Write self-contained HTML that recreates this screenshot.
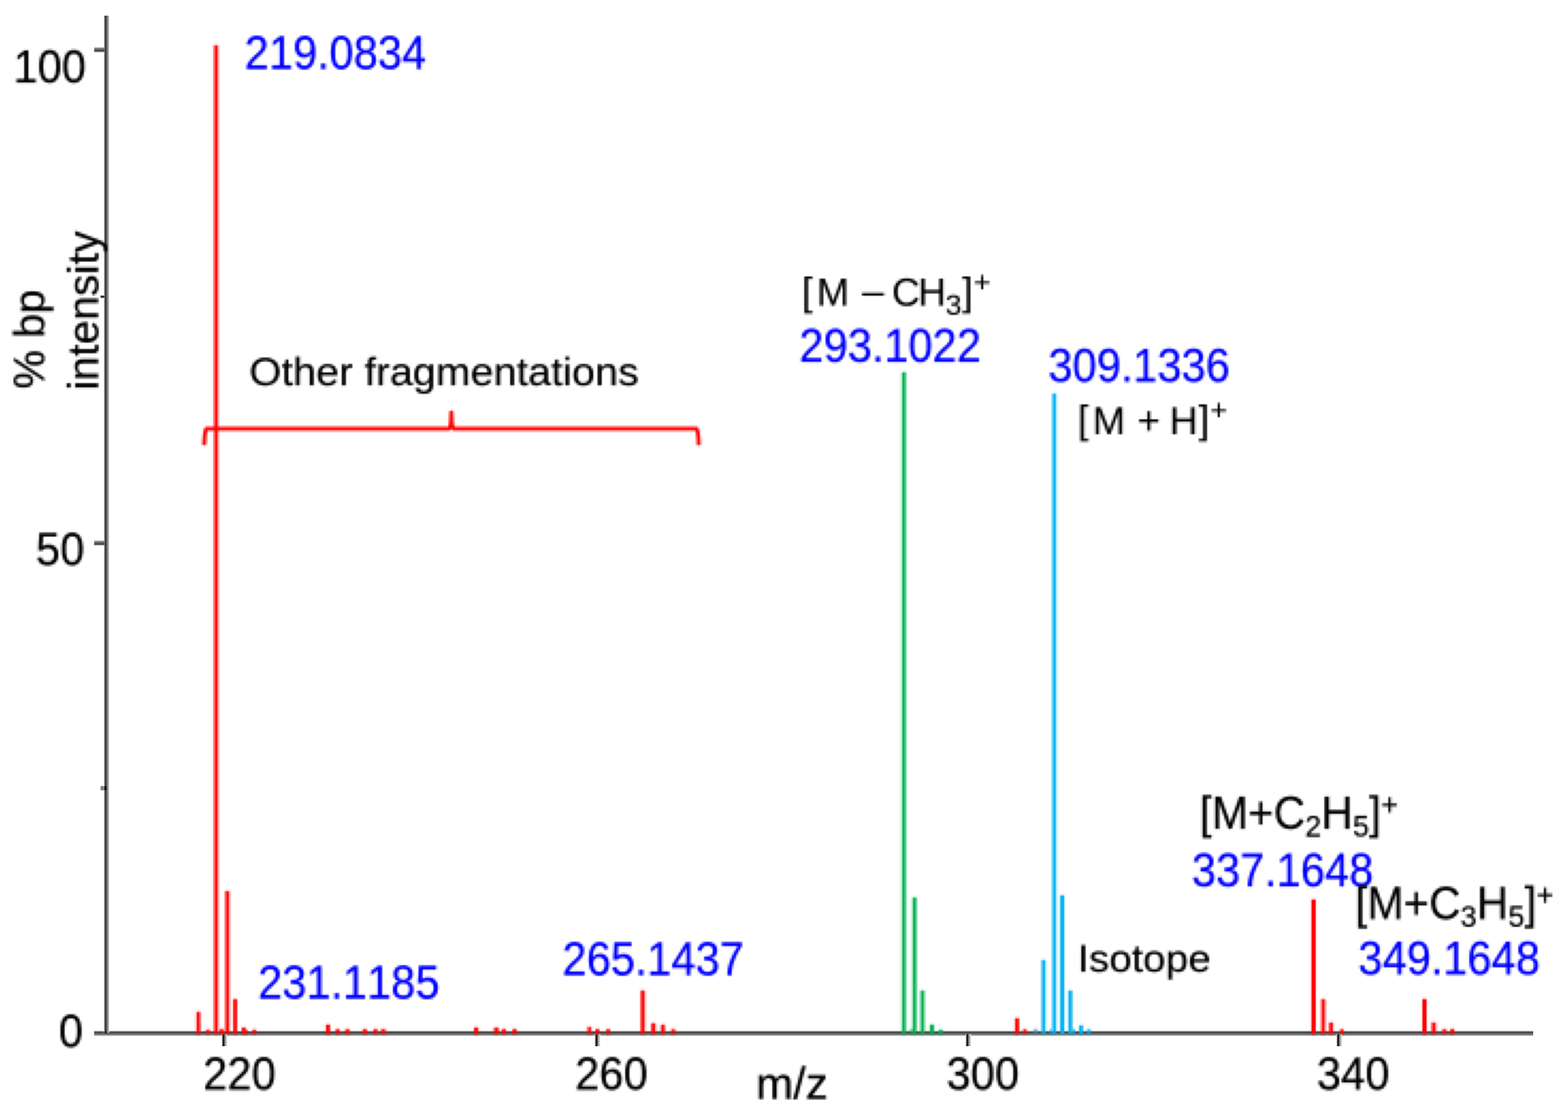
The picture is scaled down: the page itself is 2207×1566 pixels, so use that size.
<!DOCTYPE html>
<html lang="en">
<head>
<meta charset="utf-8">
<title>Mass spectrum</title>
<style>
html,body{margin:0;padding:0;background:#fff;}
body{width:2207px;height:1566px;overflow:hidden;}
svg{display:block;}
svg text{font-family:"Liberation Sans",sans-serif;font-kerning:none;white-space:pre;}
</style>
</head>
<body>
<svg width="2207" height="1566" viewBox="0 0 2207 1566">
<defs>
<filter id="s1" filterUnits="userSpaceOnUse" x="271" y="56" width="93" height="1404" color-interpolation-filters="sRGB"><feConvolveMatrix order="3" kernelMatrix="1 2 1 2 4 2 1 2 1" divisor="16" edgeMode="none" preserveAlpha="false"/></filter>
<filter id="s2" filterUnits="userSpaceOnUse" x="451" y="1436" width="96" height="24" color-interpolation-filters="sRGB"><feConvolveMatrix order="3" kernelMatrix="1 2 1 2 4 2 1 2 1" divisor="16" edgeMode="none" preserveAlpha="false"/></filter>
<filter id="s3" filterUnits="userSpaceOnUse" x="664" y="1439" width="69" height="21" color-interpolation-filters="sRGB"><feConvolveMatrix order="3" kernelMatrix="1 2 1 2 4 2 1 2 1" divisor="16" edgeMode="none" preserveAlpha="false"/></filter>
<filter id="s4" filterUnits="userSpaceOnUse" x="823" y="1388" width="132" height="72" color-interpolation-filters="sRGB"><feConvolveMatrix order="3" kernelMatrix="1 2 1 2 4 2 1 2 1" divisor="16" edgeMode="none" preserveAlpha="false"/></filter>
<filter id="s5" filterUnits="userSpaceOnUse" x="1264" y="518" width="69" height="942" color-interpolation-filters="sRGB"><feConvolveMatrix order="3" kernelMatrix="1 2 1 2 4 2 1 2 1" divisor="16" edgeMode="none" preserveAlpha="false"/></filter>
<filter id="s6" filterUnits="userSpaceOnUse" x="1423" y="548" width="117" height="912" color-interpolation-filters="sRGB"><feConvolveMatrix order="3" kernelMatrix="1 2 1 2 4 2 1 2 1" divisor="16" edgeMode="none" preserveAlpha="false"/></filter>
<filter id="s7" filterUnits="userSpaceOnUse" x="1840" y="1259" width="57" height="201" color-interpolation-filters="sRGB"><feConvolveMatrix order="3" kernelMatrix="1 2 1 2 4 2 1 2 1" divisor="16" edgeMode="none" preserveAlpha="false"/></filter>
<filter id="s8" filterUnits="userSpaceOnUse" x="1999" y="1400" width="51" height="60" color-interpolation-filters="sRGB"><feConvolveMatrix order="3" kernelMatrix="1 2 1 2 4 2 1 2 1" divisor="16" edgeMode="none" preserveAlpha="false"/></filter>
<filter id="p9" filterUnits="userSpaceOnUse" x="274" y="569" width="723" height="69" color-interpolation-filters="sRGB"><feConvolveMatrix in="SourceGraphic" order="3" kernelMatrix="1 1 1 1 1 1 1 1 1" divisor="9" edgeMode="none" preserveAlpha="false" result="a"/><feFlood x="275" y="570" width="1" height="1" flood-color="#000" result="d"/><feComposite in="d" in2="d" operator="over" x="274" y="569" width="3" height="3" result="c"/><feTile in="c" result="g"/><feComposite in="a" in2="g" operator="in" result="s"/><feMorphology in="s" operator="dilate" radius="1" result="m"/><feConvolveMatrix in="m" order="3" kernelMatrix="1 2 1 2 4 2 1 2 1" divisor="16" edgeMode="none" preserveAlpha="false"/></filter>
<filter id="p10" filterUnits="userSpaceOnUse" x="16" y="62" width="111" height="60" color-interpolation-filters="sRGB"><feConvolveMatrix in="SourceGraphic" order="3" kernelMatrix="1 1 1 1 1 1 1 1 1" divisor="9" edgeMode="none" preserveAlpha="false" result="a"/><feFlood x="17" y="63" width="1" height="1" flood-color="#000" result="d"/><feComposite in="d" in2="d" operator="over" x="16" y="62" width="3" height="3" result="c"/><feTile in="c" result="g"/><feComposite in="a" in2="g" operator="in" result="s"/><feMorphology in="s" operator="dilate" radius="1" result="m"/><feConvolveMatrix in="m" order="3" kernelMatrix="1 2 1 2 4 2 1 2 1" divisor="16" edgeMode="none" preserveAlpha="false"/></filter>
<filter id="p11" filterUnits="userSpaceOnUse" x="46" y="743" width="78" height="60" color-interpolation-filters="sRGB"><feConvolveMatrix in="SourceGraphic" order="3" kernelMatrix="1 1 1 1 1 1 1 1 1" divisor="9" edgeMode="none" preserveAlpha="false" result="a"/><feFlood x="47" y="744" width="1" height="1" flood-color="#000" result="d"/><feComposite in="d" in2="d" operator="over" x="46" y="743" width="3" height="3" result="c"/><feTile in="c" result="g"/><feComposite in="a" in2="g" operator="in" result="s"/><feMorphology in="s" operator="dilate" radius="1" result="m"/><feConvolveMatrix in="m" order="3" kernelMatrix="1 2 1 2 4 2 1 2 1" divisor="16" edgeMode="none" preserveAlpha="false"/></filter>
<filter id="p12" filterUnits="userSpaceOnUse" x="79" y="1421" width="42" height="60" color-interpolation-filters="sRGB"><feConvolveMatrix in="SourceGraphic" order="3" kernelMatrix="1 1 1 1 1 1 1 1 1" divisor="9" edgeMode="none" preserveAlpha="false" result="a"/><feFlood x="80" y="1422" width="1" height="1" flood-color="#000" result="d"/><feComposite in="d" in2="d" operator="over" x="79" y="1421" width="3" height="3" result="c"/><feTile in="c" result="g"/><feComposite in="a" in2="g" operator="in" result="s"/><feMorphology in="s" operator="dilate" radius="1" result="m"/><feConvolveMatrix in="m" order="3" kernelMatrix="1 2 1 2 4 2 1 2 1" divisor="16" edgeMode="none" preserveAlpha="false"/></filter>
<filter id="p13" filterUnits="userSpaceOnUse" x="280" y="1481" width="111" height="60" color-interpolation-filters="sRGB"><feConvolveMatrix in="SourceGraphic" order="3" kernelMatrix="1 1 1 1 1 1 1 1 1" divisor="9" edgeMode="none" preserveAlpha="false" result="a"/><feFlood x="281" y="1482" width="1" height="1" flood-color="#000" result="d"/><feComposite in="d" in2="d" operator="over" x="280" y="1481" width="3" height="3" result="c"/><feTile in="c" result="g"/><feComposite in="a" in2="g" operator="in" result="s"/><feMorphology in="s" operator="dilate" radius="1" result="m"/><feConvolveMatrix in="m" order="3" kernelMatrix="1 2 1 2 4 2 1 2 1" divisor="16" edgeMode="none" preserveAlpha="false"/></filter>
<filter id="p14" filterUnits="userSpaceOnUse" x="805" y="1481" width="111" height="60" color-interpolation-filters="sRGB"><feConvolveMatrix in="SourceGraphic" order="3" kernelMatrix="1 1 1 1 1 1 1 1 1" divisor="9" edgeMode="none" preserveAlpha="false" result="a"/><feFlood x="806" y="1482" width="1" height="1" flood-color="#000" result="d"/><feComposite in="d" in2="d" operator="over" x="805" y="1481" width="3" height="3" result="c"/><feTile in="c" result="g"/><feComposite in="a" in2="g" operator="in" result="s"/><feMorphology in="s" operator="dilate" radius="1" result="m"/><feConvolveMatrix in="m" order="3" kernelMatrix="1 2 1 2 4 2 1 2 1" divisor="16" edgeMode="none" preserveAlpha="false"/></filter>
<filter id="p15" filterUnits="userSpaceOnUse" x="1327" y="1481" width="111" height="60" color-interpolation-filters="sRGB"><feConvolveMatrix in="SourceGraphic" order="3" kernelMatrix="1 1 1 1 1 1 1 1 1" divisor="9" edgeMode="none" preserveAlpha="false" result="a"/><feFlood x="1328" y="1482" width="1" height="1" flood-color="#000" result="d"/><feComposite in="d" in2="d" operator="over" x="1327" y="1481" width="3" height="3" result="c"/><feTile in="c" result="g"/><feComposite in="a" in2="g" operator="in" result="s"/><feMorphology in="s" operator="dilate" radius="1" result="m"/><feConvolveMatrix in="m" order="3" kernelMatrix="1 2 1 2 4 2 1 2 1" divisor="16" edgeMode="none" preserveAlpha="false"/></filter>
<filter id="p16" filterUnits="userSpaceOnUse" x="1849" y="1481" width="111" height="60" color-interpolation-filters="sRGB"><feConvolveMatrix in="SourceGraphic" order="3" kernelMatrix="1 1 1 1 1 1 1 1 1" divisor="9" edgeMode="none" preserveAlpha="false" result="a"/><feFlood x="1850" y="1482" width="1" height="1" flood-color="#000" result="d"/><feComposite in="d" in2="d" operator="over" x="1849" y="1481" width="3" height="3" result="c"/><feTile in="c" result="g"/><feComposite in="a" in2="g" operator="in" result="s"/><feMorphology in="s" operator="dilate" radius="1" result="m"/><feConvolveMatrix in="m" order="3" kernelMatrix="1 2 1 2 4 2 1 2 1" divisor="16" edgeMode="none" preserveAlpha="false"/></filter>
<filter id="p17" filterUnits="userSpaceOnUse" x="1063" y="1493" width="108" height="60" color-interpolation-filters="sRGB"><feConvolveMatrix in="SourceGraphic" order="3" kernelMatrix="1 1 1 1 1 1 1 1 1" divisor="9" edgeMode="none" preserveAlpha="false" result="a"/><feFlood x="1064" y="1494" width="1" height="1" flood-color="#000" result="d"/><feComposite in="d" in2="d" operator="over" x="1063" y="1493" width="3" height="3" result="c"/><feTile in="c" result="g"/><feComposite in="a" in2="g" operator="in" result="s"/><feMorphology in="s" operator="dilate" radius="1" result="m"/><feConvolveMatrix in="m" order="3" kernelMatrix="1 2 1 2 4 2 1 2 1" divisor="16" edgeMode="none" preserveAlpha="false"/></filter>
<filter id="p18" filterUnits="userSpaceOnUse" x="10" y="401" width="72" height="150" color-interpolation-filters="sRGB"><feConvolveMatrix in="SourceGraphic" order="3" kernelMatrix="1 1 1 1 1 1 1 1 1" divisor="9" edgeMode="none" preserveAlpha="false" result="a"/><feFlood x="11" y="402" width="1" height="1" flood-color="#000" result="d"/><feComposite in="d" in2="d" operator="over" x="10" y="401" width="3" height="3" result="c"/><feTile in="c" result="g"/><feComposite in="a" in2="g" operator="in" result="s"/><feMorphology in="s" operator="dilate" radius="1" result="m"/><feConvolveMatrix in="m" order="3" kernelMatrix="1 2 1 2 4 2 1 2 1" divisor="16" edgeMode="none" preserveAlpha="false"/></filter>
<filter id="p19" filterUnits="userSpaceOnUse" x="85" y="317" width="75" height="234" color-interpolation-filters="sRGB"><feConvolveMatrix in="SourceGraphic" order="3" kernelMatrix="1 1 1 1 1 1 1 1 1" divisor="9" edgeMode="none" preserveAlpha="false" result="a"/><feFlood x="86" y="318" width="1" height="1" flood-color="#000" result="d"/><feComposite in="d" in2="d" operator="over" x="85" y="317" width="3" height="3" result="c"/><feTile in="c" result="g"/><feComposite in="a" in2="g" operator="in" result="s"/><feMorphology in="s" operator="dilate" radius="1" result="m"/><feConvolveMatrix in="m" order="3" kernelMatrix="1 2 1 2 4 2 1 2 1" divisor="16" edgeMode="none" preserveAlpha="false"/></filter>
<filter id="p20" filterUnits="userSpaceOnUse" x="340" y="44" width="264" height="63" color-interpolation-filters="sRGB"><feConvolveMatrix in="SourceGraphic" order="3" kernelMatrix="1 1 1 1 1 1 1 1 1" divisor="9" edgeMode="none" preserveAlpha="false" result="a"/><feFlood x="341" y="45" width="1" height="1" flood-color="#000" result="d"/><feComposite in="d" in2="d" operator="over" x="340" y="44" width="3" height="3" result="c"/><feTile in="c" result="g"/><feComposite in="a" in2="g" operator="in" result="s"/><feMorphology in="s" operator="dilate" radius="1" result="m"/><feConvolveMatrix in="m" order="3" kernelMatrix="1 2 1 2 4 2 1 2 1" divisor="16" edgeMode="none" preserveAlpha="false"/></filter>
<filter id="p21" filterUnits="userSpaceOnUse" x="358" y="1349" width="264" height="63" color-interpolation-filters="sRGB"><feConvolveMatrix in="SourceGraphic" order="3" kernelMatrix="1 1 1 1 1 1 1 1 1" divisor="9" edgeMode="none" preserveAlpha="false" result="a"/><feFlood x="359" y="1350" width="1" height="1" flood-color="#000" result="d"/><feComposite in="d" in2="d" operator="over" x="358" y="1349" width="3" height="3" result="c"/><feTile in="c" result="g"/><feComposite in="a" in2="g" operator="in" result="s"/><feMorphology in="s" operator="dilate" radius="1" result="m"/><feConvolveMatrix in="m" order="3" kernelMatrix="1 2 1 2 4 2 1 2 1" divisor="16" edgeMode="none" preserveAlpha="false"/></filter>
<filter id="p22" filterUnits="userSpaceOnUse" x="787" y="1319" width="264" height="63" color-interpolation-filters="sRGB"><feConvolveMatrix in="SourceGraphic" order="3" kernelMatrix="1 1 1 1 1 1 1 1 1" divisor="9" edgeMode="none" preserveAlpha="false" result="a"/><feFlood x="788" y="1320" width="1" height="1" flood-color="#000" result="d"/><feComposite in="d" in2="d" operator="over" x="787" y="1319" width="3" height="3" result="c"/><feTile in="c" result="g"/><feComposite in="a" in2="g" operator="in" result="s"/><feMorphology in="s" operator="dilate" radius="1" result="m"/><feConvolveMatrix in="m" order="3" kernelMatrix="1 2 1 2 4 2 1 2 1" divisor="16" edgeMode="none" preserveAlpha="false"/></filter>
<filter id="p23" filterUnits="userSpaceOnUse" x="1120" y="455" width="264" height="60" color-interpolation-filters="sRGB"><feConvolveMatrix in="SourceGraphic" order="3" kernelMatrix="1 1 1 1 1 1 1 1 1" divisor="9" edgeMode="none" preserveAlpha="false" result="a"/><feFlood x="1121" y="456" width="1" height="1" flood-color="#000" result="d"/><feComposite in="d" in2="d" operator="over" x="1120" y="455" width="3" height="3" result="c"/><feTile in="c" result="g"/><feComposite in="a" in2="g" operator="in" result="s"/><feMorphology in="s" operator="dilate" radius="1" result="m"/><feConvolveMatrix in="m" order="3" kernelMatrix="1 2 1 2 4 2 1 2 1" divisor="16" edgeMode="none" preserveAlpha="false"/></filter>
<filter id="p24" filterUnits="userSpaceOnUse" x="1471" y="482" width="264" height="63" color-interpolation-filters="sRGB"><feConvolveMatrix in="SourceGraphic" order="3" kernelMatrix="1 1 1 1 1 1 1 1 1" divisor="9" edgeMode="none" preserveAlpha="false" result="a"/><feFlood x="1472" y="483" width="1" height="1" flood-color="#000" result="d"/><feComposite in="d" in2="d" operator="over" x="1471" y="482" width="3" height="3" result="c"/><feTile in="c" result="g"/><feComposite in="a" in2="g" operator="in" result="s"/><feMorphology in="s" operator="dilate" radius="1" result="m"/><feConvolveMatrix in="m" order="3" kernelMatrix="1 2 1 2 4 2 1 2 1" divisor="16" edgeMode="none" preserveAlpha="false"/></filter>
<filter id="p25" filterUnits="userSpaceOnUse" x="1672" y="1193" width="267" height="63" color-interpolation-filters="sRGB"><feConvolveMatrix in="SourceGraphic" order="3" kernelMatrix="1 1 1 1 1 1 1 1 1" divisor="9" edgeMode="none" preserveAlpha="false" result="a"/><feFlood x="1673" y="1194" width="1" height="1" flood-color="#000" result="d"/><feComposite in="d" in2="d" operator="over" x="1672" y="1193" width="3" height="3" result="c"/><feTile in="c" result="g"/><feComposite in="a" in2="g" operator="in" result="s"/><feMorphology in="s" operator="dilate" radius="1" result="m"/><feConvolveMatrix in="m" order="3" kernelMatrix="1 2 1 2 4 2 1 2 1" divisor="16" edgeMode="none" preserveAlpha="false"/></filter>
<filter id="p26" filterUnits="userSpaceOnUse" x="1909" y="1316" width="264" height="63" color-interpolation-filters="sRGB"><feConvolveMatrix in="SourceGraphic" order="3" kernelMatrix="1 1 1 1 1 1 1 1 1" divisor="9" edgeMode="none" preserveAlpha="false" result="a"/><feFlood x="1910" y="1317" width="1" height="1" flood-color="#000" result="d"/><feComposite in="d" in2="d" operator="over" x="1909" y="1316" width="3" height="3" result="c"/><feTile in="c" result="g"/><feComposite in="a" in2="g" operator="in" result="s"/><feMorphology in="s" operator="dilate" radius="1" result="m"/><feConvolveMatrix in="m" order="3" kernelMatrix="1 2 1 2 4 2 1 2 1" divisor="16" edgeMode="none" preserveAlpha="false"/></filter>
<filter id="p27" filterUnits="userSpaceOnUse" x="346" y="494" width="558" height="69" color-interpolation-filters="sRGB"><feConvolveMatrix in="SourceGraphic" order="3" kernelMatrix="1 1 1 1 1 1 1 1 1" divisor="9" edgeMode="none" preserveAlpha="false" result="a"/><feFlood x="347" y="495" width="1" height="1" flood-color="#000" result="d"/><feComposite in="d" in2="d" operator="over" x="346" y="494" width="3" height="3" result="c"/><feTile in="c" result="g"/><feComposite in="a" in2="g" operator="in" result="s"/><feMorphology in="s" operator="dilate" radius="1" result="m"/><feConvolveMatrix in="m" order="3" kernelMatrix="1 2 1 2 4 2 1 2 1" divisor="16" edgeMode="none" preserveAlpha="false"/></filter>
<filter id="p28" filterUnits="userSpaceOnUse" x="1516" y="1322" width="192" height="66" color-interpolation-filters="sRGB"><feConvolveMatrix in="SourceGraphic" order="3" kernelMatrix="1 1 1 1 1 1 1 1 1" divisor="9" edgeMode="none" preserveAlpha="false" result="a"/><feFlood x="1517" y="1323" width="1" height="1" flood-color="#000" result="d"/><feComposite in="d" in2="d" operator="over" x="1516" y="1322" width="3" height="3" result="c"/><feTile in="c" result="g"/><feComposite in="a" in2="g" operator="in" result="s"/><feMorphology in="s" operator="dilate" radius="1" result="m"/><feConvolveMatrix in="m" order="3" kernelMatrix="1 2 1 2 4 2 1 2 1" divisor="16" edgeMode="none" preserveAlpha="false"/></filter>
<filter id="p29" filterUnits="userSpaceOnUse" x="1123" y="377" width="279" height="78" color-interpolation-filters="sRGB"><feConvolveMatrix in="SourceGraphic" order="3" kernelMatrix="1 1 1 1 1 1 1 1 1" divisor="9" edgeMode="none" preserveAlpha="false" result="a"/><feFlood x="1124" y="378" width="1" height="1" flood-color="#000" result="d"/><feComposite in="d" in2="d" operator="over" x="1123" y="377" width="3" height="3" result="c"/><feTile in="c" result="g"/><feComposite in="a" in2="g" operator="in" result="s"/><feMorphology in="s" operator="dilate" radius="1" result="m"/><feConvolveMatrix in="m" order="3" kernelMatrix="1 2 1 2 4 2 1 2 1" divisor="16" edgeMode="none" preserveAlpha="false"/></filter>
<filter id="p30" filterUnits="userSpaceOnUse" x="1510" y="557" width="225" height="75" color-interpolation-filters="sRGB"><feConvolveMatrix in="SourceGraphic" order="3" kernelMatrix="1 1 1 1 1 1 1 1 1" divisor="9" edgeMode="none" preserveAlpha="false" result="a"/><feFlood x="1511" y="558" width="1" height="1" flood-color="#000" result="d"/><feComposite in="d" in2="d" operator="over" x="1510" y="557" width="3" height="3" result="c"/><feTile in="c" result="g"/><feComposite in="a" in2="g" operator="in" result="s"/><feMorphology in="s" operator="dilate" radius="1" result="m"/><feConvolveMatrix in="m" order="3" kernelMatrix="1 2 1 2 4 2 1 2 1" divisor="16" edgeMode="none" preserveAlpha="false"/></filter>
<filter id="p31" filterUnits="userSpaceOnUse" x="1681" y="1109" width="297" height="81" color-interpolation-filters="sRGB"><feConvolveMatrix in="SourceGraphic" order="3" kernelMatrix="1 1 1 1 1 1 1 1 1" divisor="9" edgeMode="none" preserveAlpha="false" result="a"/><feFlood x="1682" y="1110" width="1" height="1" flood-color="#000" result="d"/><feComposite in="d" in2="d" operator="over" x="1681" y="1109" width="3" height="3" result="c"/><feTile in="c" result="g"/><feComposite in="a" in2="g" operator="in" result="s"/><feMorphology in="s" operator="dilate" radius="1" result="m"/><feConvolveMatrix in="m" order="3" kernelMatrix="1 2 1 2 4 2 1 2 1" divisor="16" edgeMode="none" preserveAlpha="false"/></filter>
<filter id="p32" filterUnits="userSpaceOnUse" x="1900" y="1235" width="297" height="81" color-interpolation-filters="sRGB"><feConvolveMatrix in="SourceGraphic" order="3" kernelMatrix="1 1 1 1 1 1 1 1 1" divisor="9" edgeMode="none" preserveAlpha="false" result="a"/><feFlood x="1901" y="1236" width="1" height="1" flood-color="#000" result="d"/><feComposite in="d" in2="d" operator="over" x="1900" y="1235" width="3" height="3" result="c"/><feTile in="c" result="g"/><feComposite in="a" in2="g" operator="in" result="s"/><feMorphology in="s" operator="dilate" radius="1" result="m"/><feConvolveMatrix in="m" order="3" kernelMatrix="1 2 1 2 4 2 1 2 1" divisor="16" edgeMode="none" preserveAlpha="false"/></filter>
</defs>
<rect x="0" y="0" width="2207" height="1566" fill="#ffffff"/>
<g id="axes">
<rect x="132.5" y="1450" width="2025.5" height="1" fill="#d0d0d0"/>
<rect x="132.5" y="1451" width="2025.5" height="1" fill="#737373"/>
<rect x="132.5" y="1452" width="2025.5" height="1" fill="#444444"/>
<rect x="132.5" y="1453" width="2025.5" height="1" fill="#515151"/>
<rect x="132.5" y="1454" width="2025.5" height="1" fill="#6a6a6a"/>
<rect x="132.5" y="1455" width="2025.5" height="1" fill="#777777"/>
<rect x="132.5" y="1456" width="2025.5" height="1" fill="#999999"/>
<rect x="132.5" y="1457" width="2025.5" height="1" fill="#dddddd"/>
<rect x="146" y="22" width="1" height="1431" fill="#cccccc"/>
<rect x="147" y="22" width="1" height="1431" fill="#666666"/>
<rect x="148" y="22" width="1" height="1431" fill="#333333"/>
<rect x="149" y="22" width="1" height="1431" fill="#484848"/>
<rect x="150" y="22" width="1" height="1431" fill="#717171"/>
<rect x="151" y="22" width="1" height="1431" fill="#868686"/>
<rect x="152" y="22" width="1" height="1431" fill="#a4a4a4"/>
<rect x="153" y="22" width="1" height="1431" fill="#e1e1e1"/>
<rect x="147" y="1451" width="3" height="3" fill="#1c1c1c"/>
<rect x="132.5" y="66" width="14.5" height="1" fill="#dddddd"/>
<rect x="132.5" y="67" width="14.5" height="1" fill="#999999"/>
<rect x="132.5" y="68" width="14.5" height="1" fill="#777777"/>
<rect x="132.5" y="69" width="14.5" height="1" fill="#6a6a6a"/>
<rect x="132.5" y="70" width="14.5" height="1" fill="#515151"/>
<rect x="132.5" y="71" width="14.5" height="1" fill="#444444"/>
<rect x="132.5" y="72" width="14.5" height="1" fill="#737373"/>
<rect x="132.5" y="73" width="14.5" height="1" fill="#d0d0d0"/>
<rect x="132.5" y="760" width="14.5" height="1" fill="#dddddd"/>
<rect x="132.5" y="761" width="14.5" height="1" fill="#999999"/>
<rect x="132.5" y="762" width="14.5" height="1" fill="#777777"/>
<rect x="132.5" y="763" width="14.5" height="1" fill="#6a6a6a"/>
<rect x="132.5" y="764" width="14.5" height="1" fill="#515151"/>
<rect x="132.5" y="765" width="14.5" height="1" fill="#444444"/>
<rect x="132.5" y="766" width="14.5" height="1" fill="#737373"/>
<rect x="132.5" y="767" width="14.5" height="1" fill="#d0d0d0"/>
<rect x="141.5" y="415" width="5.5" height="1" fill="#c6c6c6"/>
<rect x="141.5" y="416" width="5.5" height="1" fill="#535353"/>
<rect x="141.5" y="417" width="5.5" height="1" fill="#1a1a1a"/>
<rect x="141.5" y="418" width="5.5" height="1" fill="#535353"/>
<rect x="141.5" y="419" width="5.5" height="1" fill="#c6c6c6"/>
<rect x="141.5" y="1105" width="5.5" height="1" fill="#dedede"/>
<rect x="141.5" y="1106" width="5.5" height="1" fill="#9d9d9d"/>
<rect x="141.5" y="1107" width="5.5" height="1" fill="#7c7c7c"/>
<rect x="141.5" y="1108" width="5.5" height="1" fill="#7c7c7c"/>
<rect x="141.5" y="1109" width="5.5" height="1" fill="#7c7c7c"/>
<rect x="141.5" y="1110" width="5.5" height="1" fill="#7c7c7c"/>
<rect x="141.5" y="1111" width="5.5" height="1" fill="#9d9d9d"/>
<rect x="141.5" y="1112" width="5.5" height="1" fill="#dedede"/>
<rect x="147" y="1106" width="3" height="6" fill="#0a0a0a"/>
<rect x="312" y="1455" width="1" height="17" fill="#c2c2c2"/>
<rect x="313" y="1455" width="1" height="17" fill="#4a4a4a"/>
<rect x="314" y="1455" width="1" height="17" fill="#0d0d0d"/>
<rect x="315" y="1455" width="1" height="17" fill="#343434"/>
<rect x="316" y="1455" width="1" height="17" fill="#818181"/>
<rect x="317" y="1455" width="1" height="17" fill="#a8a8a8"/>
<rect x="318" y="1455" width="1" height="17" fill="#bebebe"/>
<rect x="319" y="1455" width="1" height="17" fill="#e9e9e9"/>
<rect x="837" y="1455" width="1" height="17" fill="#c2c2c2"/>
<rect x="838" y="1455" width="1" height="17" fill="#4a4a4a"/>
<rect x="839" y="1455" width="1" height="17" fill="#0d0d0d"/>
<rect x="840" y="1455" width="1" height="17" fill="#343434"/>
<rect x="841" y="1455" width="1" height="17" fill="#818181"/>
<rect x="842" y="1455" width="1" height="17" fill="#a8a8a8"/>
<rect x="843" y="1455" width="1" height="17" fill="#bebebe"/>
<rect x="844" y="1455" width="1" height="17" fill="#e9e9e9"/>
<rect x="1359" y="1455" width="1" height="17" fill="#c2c2c2"/>
<rect x="1360" y="1455" width="1" height="17" fill="#4a4a4a"/>
<rect x="1361" y="1455" width="1" height="17" fill="#0d0d0d"/>
<rect x="1362" y="1455" width="1" height="17" fill="#343434"/>
<rect x="1363" y="1455" width="1" height="17" fill="#818181"/>
<rect x="1364" y="1455" width="1" height="17" fill="#a8a8a8"/>
<rect x="1365" y="1455" width="1" height="17" fill="#bebebe"/>
<rect x="1366" y="1455" width="1" height="17" fill="#e9e9e9"/>
<rect x="1881" y="1455" width="1" height="17" fill="#c2c2c2"/>
<rect x="1882" y="1455" width="1" height="17" fill="#4a4a4a"/>
<rect x="1883" y="1455" width="1" height="17" fill="#0d0d0d"/>
<rect x="1884" y="1455" width="1" height="17" fill="#343434"/>
<rect x="1885" y="1455" width="1" height="17" fill="#818181"/>
<rect x="1886" y="1455" width="1" height="17" fill="#a8a8a8"/>
<rect x="1887" y="1455" width="1" height="17" fill="#bebebe"/>
<rect x="1888" y="1455" width="1" height="17" fill="#e9e9e9"/>
</g>
<g filter="url(#s1)"><rect x="274" y="1421" width="3" height="3" fill="#ff0000" opacity="0.03"/><rect x="274" y="1424" width="3" height="30" fill="#ff0000" opacity="0.15"/><rect x="274" y="1454" width="3" height="3" fill="#ff0000" opacity="0.05"/><rect x="277" y="1421" width="3" height="3" fill="#ff0000" opacity="0.18"/><rect x="277" y="1424" width="3" height="30" fill="#ff0000" opacity="1.00"/><rect x="277" y="1454" width="3" height="3" fill="#ff0000" opacity="0.35"/><rect x="280" y="1421" width="3" height="3" fill="#ff0000" opacity="0.11"/><rect x="280" y="1424" width="3" height="30" fill="#ff0000" opacity="0.60"/><rect x="280" y="1454" width="3" height="3" fill="#ff0000" opacity="0.21"/><rect x="288" y="1446" width="3" height="3" fill="#ff0000" opacity="0.05"/><rect x="288" y="1449" width="3" height="5" fill="#ff0000" opacity="0.30"/><rect x="288" y="1454" width="3" height="3" fill="#ff0000" opacity="0.10"/><rect x="291" y="1446" width="3" height="3" fill="#ff0000" opacity="0.16"/><rect x="291" y="1449" width="3" height="5" fill="#ff0000" opacity="0.90"/><rect x="291" y="1454" width="3" height="3" fill="#ff0000" opacity="0.32"/><rect x="294" y="1446" width="3" height="3" fill="#ff0000" opacity="0.07"/><rect x="294" y="1449" width="3" height="5" fill="#ff0000" opacity="0.40"/><rect x="294" y="1454" width="3" height="3" fill="#ff0000" opacity="0.14"/><rect x="300" y="61" width="3" height="3" fill="#ff0000" opacity="0.10"/><rect x="300" y="64" width="3" height="1390" fill="#ff0000" opacity="0.55"/><rect x="300" y="1454" width="3" height="3" fill="#ff0000" opacity="0.19"/><rect x="303" y="61" width="3" height="3" fill="#ff0000" opacity="0.18"/><rect x="303" y="64" width="3" height="1390" fill="#ff0000" opacity="1.00"/><rect x="303" y="1454" width="3" height="3" fill="#ff0000" opacity="0.35"/><rect x="306" y="61" width="3" height="3" fill="#ff0000" opacity="0.05"/><rect x="306" y="64" width="3" height="1390" fill="#ff0000" opacity="0.30"/><rect x="306" y="1454" width="3" height="3" fill="#ff0000" opacity="0.10"/><rect x="309" y="1445" width="3" height="3" fill="#ff0000" opacity="0.14"/><rect x="309" y="1448" width="3" height="6" fill="#ff0000" opacity="0.80"/><rect x="309" y="1454" width="3" height="3" fill="#ff0000" opacity="0.28"/><rect x="312" y="1445" width="3" height="3" fill="#ff0000" opacity="0.14"/><rect x="312" y="1448" width="3" height="6" fill="#ff0000" opacity="0.80"/><rect x="312" y="1454" width="3" height="3" fill="#ff0000" opacity="0.28"/><rect x="316" y="1251" width="3" height="3" fill="#ff0000" opacity="0.11"/><rect x="316" y="1254" width="3" height="200" fill="#ff0000" opacity="0.60"/><rect x="316" y="1454" width="3" height="3" fill="#ff0000" opacity="0.21"/><rect x="319" y="1251" width="3" height="3" fill="#ff0000" opacity="0.18"/><rect x="319" y="1254" width="3" height="200" fill="#ff0000" opacity="1.00"/><rect x="319" y="1454" width="3" height="3" fill="#ff0000" opacity="0.35"/><rect x="322" y="1251" width="3" height="3" fill="#ff0000" opacity="0.05"/><rect x="322" y="1254" width="3" height="200" fill="#ff0000" opacity="0.30"/><rect x="322" y="1454" width="3" height="3" fill="#ff0000" opacity="0.10"/><rect x="328" y="1403" width="3" height="3" fill="#ff0000" opacity="0.16"/><rect x="328" y="1406" width="3" height="48" fill="#ff0000" opacity="0.90"/><rect x="328" y="1454" width="3" height="3" fill="#ff0000" opacity="0.32"/><rect x="331" y="1403" width="3" height="3" fill="#ff0000" opacity="0.16"/><rect x="331" y="1406" width="3" height="48" fill="#ff0000" opacity="0.90"/><rect x="331" y="1454" width="3" height="3" fill="#ff0000" opacity="0.32"/><rect x="340" y="1443" width="3" height="3" fill="#ff0000" opacity="0.16"/><rect x="340" y="1446" width="3" height="8" fill="#ff0000" opacity="0.90"/><rect x="340" y="1454" width="3" height="3" fill="#ff0000" opacity="0.32"/><rect x="343" y="1443" width="3" height="3" fill="#ff0000" opacity="0.16"/><rect x="343" y="1446" width="3" height="8" fill="#ff0000" opacity="0.90"/><rect x="343" y="1454" width="3" height="3" fill="#ff0000" opacity="0.32"/><rect x="346" y="1446" width="3" height="3" fill="#ff0000" opacity="0.13"/><rect x="346" y="1449" width="3" height="5" fill="#ff0000" opacity="0.70"/><rect x="346" y="1454" width="3" height="3" fill="#ff0000" opacity="0.24"/><rect x="355" y="1446" width="3" height="3" fill="#ff0000" opacity="0.14"/><rect x="355" y="1449" width="3" height="5" fill="#ff0000" opacity="0.80"/><rect x="355" y="1454" width="3" height="3" fill="#ff0000" opacity="0.28"/><rect x="358" y="1446" width="3" height="3" fill="#ff0000" opacity="0.14"/><rect x="358" y="1449" width="3" height="5" fill="#ff0000" opacity="0.80"/><rect x="358" y="1454" width="3" height="3" fill="#ff0000" opacity="0.28"/></g>
<g filter="url(#s2)"><rect x="456" y="1439" width="3" height="3" fill="#ff0000" opacity="0.02"/><rect x="456" y="1442" width="3" height="12" fill="#ff0000" opacity="0.10"/><rect x="456" y="1454" width="3" height="3" fill="#ff0000" opacity="0.03"/><rect x="459" y="1439" width="3" height="3" fill="#ff0000" opacity="0.18"/><rect x="459" y="1442" width="3" height="12" fill="#ff0000" opacity="1.00"/><rect x="459" y="1454" width="3" height="3" fill="#ff0000" opacity="0.35"/><rect x="462" y="1439" width="3" height="3" fill="#ff0000" opacity="0.15"/><rect x="462" y="1442" width="3" height="12" fill="#ff0000" opacity="0.85"/><rect x="462" y="1454" width="3" height="3" fill="#ff0000" opacity="0.30"/><rect x="472" y="1445" width="3" height="3" fill="#ff0000" opacity="0.14"/><rect x="472" y="1448" width="3" height="6" fill="#ff0000" opacity="0.75"/><rect x="472" y="1454" width="3" height="3" fill="#ff0000" opacity="0.26"/><rect x="475" y="1445" width="3" height="3" fill="#ff0000" opacity="0.15"/><rect x="475" y="1448" width="3" height="6" fill="#ff0000" opacity="0.85"/><rect x="475" y="1454" width="3" height="3" fill="#ff0000" opacity="0.30"/><rect x="478" y="1445" width="3" height="3" fill="#ff0000" opacity="0.02"/><rect x="478" y="1448" width="3" height="6" fill="#ff0000" opacity="0.10"/><rect x="478" y="1454" width="3" height="3" fill="#ff0000" opacity="0.03"/><rect x="484" y="1445" width="3" height="3" fill="#ff0000" opacity="0.05"/><rect x="484" y="1448" width="3" height="6" fill="#ff0000" opacity="0.30"/><rect x="484" y="1454" width="3" height="3" fill="#ff0000" opacity="0.10"/><rect x="487" y="1445" width="3" height="3" fill="#ff0000" opacity="0.16"/><rect x="487" y="1448" width="3" height="6" fill="#ff0000" opacity="0.90"/><rect x="487" y="1454" width="3" height="3" fill="#ff0000" opacity="0.32"/><rect x="490" y="1445" width="3" height="3" fill="#ff0000" opacity="0.11"/><rect x="490" y="1448" width="3" height="6" fill="#ff0000" opacity="0.60"/><rect x="490" y="1454" width="3" height="3" fill="#ff0000" opacity="0.21"/><rect x="508" y="1445" width="3" height="3" fill="#ff0000" opacity="0.03"/><rect x="508" y="1448" width="3" height="6" fill="#ff0000" opacity="0.15"/><rect x="508" y="1454" width="3" height="3" fill="#ff0000" opacity="0.05"/><rect x="511" y="1445" width="3" height="3" fill="#ff0000" opacity="0.16"/><rect x="511" y="1448" width="3" height="6" fill="#ff0000" opacity="0.90"/><rect x="511" y="1454" width="3" height="3" fill="#ff0000" opacity="0.32"/><rect x="514" y="1445" width="3" height="3" fill="#ff0000" opacity="0.13"/><rect x="514" y="1448" width="3" height="6" fill="#ff0000" opacity="0.70"/><rect x="514" y="1454" width="3" height="3" fill="#ff0000" opacity="0.24"/><rect x="523" y="1445" width="3" height="3" fill="#ff0000" opacity="0.03"/><rect x="523" y="1448" width="3" height="6" fill="#ff0000" opacity="0.15"/><rect x="523" y="1454" width="3" height="3" fill="#ff0000" opacity="0.05"/><rect x="526" y="1445" width="3" height="3" fill="#ff0000" opacity="0.16"/><rect x="526" y="1448" width="3" height="6" fill="#ff0000" opacity="0.90"/><rect x="526" y="1454" width="3" height="3" fill="#ff0000" opacity="0.32"/><rect x="529" y="1445" width="3" height="3" fill="#ff0000" opacity="0.13"/><rect x="529" y="1448" width="3" height="6" fill="#ff0000" opacity="0.70"/><rect x="529" y="1454" width="3" height="3" fill="#ff0000" opacity="0.24"/><rect x="535" y="1445" width="3" height="3" fill="#ff0000" opacity="0.09"/><rect x="535" y="1448" width="3" height="6" fill="#ff0000" opacity="0.50"/><rect x="535" y="1454" width="3" height="3" fill="#ff0000" opacity="0.17"/><rect x="538" y="1445" width="3" height="3" fill="#ff0000" opacity="0.16"/><rect x="538" y="1448" width="3" height="6" fill="#ff0000" opacity="0.90"/><rect x="538" y="1454" width="3" height="3" fill="#ff0000" opacity="0.32"/><rect x="541" y="1445" width="3" height="3" fill="#ff0000" opacity="0.09"/><rect x="541" y="1448" width="3" height="6" fill="#ff0000" opacity="0.50"/><rect x="541" y="1454" width="3" height="3" fill="#ff0000" opacity="0.17"/></g>
<g filter="url(#s3)"><rect x="667" y="1443" width="3" height="3" fill="#ff0000" opacity="0.16"/><rect x="667" y="1446" width="3" height="8" fill="#ff0000" opacity="0.90"/><rect x="667" y="1454" width="3" height="3" fill="#ff0000" opacity="0.32"/><rect x="670" y="1443" width="3" height="3" fill="#ff0000" opacity="0.17"/><rect x="670" y="1446" width="3" height="8" fill="#ff0000" opacity="0.95"/><rect x="670" y="1454" width="3" height="3" fill="#ff0000" opacity="0.33"/><rect x="673" y="1443" width="3" height="3" fill="#ff0000" opacity="0.02"/><rect x="673" y="1446" width="3" height="8" fill="#ff0000" opacity="0.10"/><rect x="673" y="1454" width="3" height="3" fill="#ff0000" opacity="0.03"/><rect x="694" y="1443" width="3" height="3" fill="#ff0000" opacity="0.09"/><rect x="694" y="1446" width="3" height="8" fill="#ff0000" opacity="0.50"/><rect x="694" y="1454" width="3" height="3" fill="#ff0000" opacity="0.17"/><rect x="697" y="1443" width="3" height="3" fill="#ff0000" opacity="0.18"/><rect x="697" y="1446" width="3" height="8" fill="#ff0000" opacity="1.00"/><rect x="697" y="1454" width="3" height="3" fill="#ff0000" opacity="0.35"/><rect x="700" y="1443" width="3" height="3" fill="#ff0000" opacity="0.11"/><rect x="700" y="1446" width="3" height="8" fill="#ff0000" opacity="0.60"/><rect x="700" y="1454" width="3" height="3" fill="#ff0000" opacity="0.21"/><rect x="706" y="1445" width="3" height="3" fill="#ff0000" opacity="0.14"/><rect x="706" y="1448" width="3" height="6" fill="#ff0000" opacity="0.80"/><rect x="706" y="1454" width="3" height="3" fill="#ff0000" opacity="0.28"/><rect x="709" y="1445" width="3" height="3" fill="#ff0000" opacity="0.16"/><rect x="709" y="1448" width="3" height="6" fill="#ff0000" opacity="0.90"/><rect x="709" y="1454" width="3" height="3" fill="#ff0000" opacity="0.32"/><rect x="712" y="1445" width="3" height="3" fill="#ff0000" opacity="0.02"/><rect x="712" y="1448" width="3" height="6" fill="#ff0000" opacity="0.10"/><rect x="712" y="1454" width="3" height="3" fill="#ff0000" opacity="0.03"/><rect x="721" y="1445" width="3" height="3" fill="#ff0000" opacity="0.14"/><rect x="721" y="1448" width="3" height="6" fill="#ff0000" opacity="0.80"/><rect x="721" y="1454" width="3" height="3" fill="#ff0000" opacity="0.28"/><rect x="724" y="1445" width="3" height="3" fill="#ff0000" opacity="0.16"/><rect x="724" y="1448" width="3" height="6" fill="#ff0000" opacity="0.90"/><rect x="724" y="1454" width="3" height="3" fill="#ff0000" opacity="0.32"/><rect x="727" y="1445" width="3" height="3" fill="#ff0000" opacity="0.02"/><rect x="727" y="1448" width="3" height="6" fill="#ff0000" opacity="0.10"/><rect x="727" y="1454" width="3" height="3" fill="#ff0000" opacity="0.03"/></g>
<g filter="url(#s4)"><rect x="826" y="1442" width="3" height="3" fill="#ff0000" opacity="0.11"/><rect x="826" y="1445" width="3" height="9" fill="#ff0000" opacity="0.60"/><rect x="826" y="1454" width="3" height="3" fill="#ff0000" opacity="0.21"/><rect x="829" y="1442" width="3" height="3" fill="#ff0000" opacity="0.16"/><rect x="829" y="1445" width="3" height="9" fill="#ff0000" opacity="0.90"/><rect x="829" y="1454" width="3" height="3" fill="#ff0000" opacity="0.32"/><rect x="832" y="1442" width="3" height="3" fill="#ff0000" opacity="0.03"/><rect x="832" y="1445" width="3" height="9" fill="#ff0000" opacity="0.15"/><rect x="832" y="1454" width="3" height="3" fill="#ff0000" opacity="0.05"/><rect x="838" y="1445" width="3" height="3" fill="#ff0000" opacity="0.16"/><rect x="838" y="1448" width="3" height="6" fill="#ff0000" opacity="0.90"/><rect x="838" y="1454" width="3" height="3" fill="#ff0000" opacity="0.32"/><rect x="841" y="1445" width="3" height="3" fill="#ff0000" opacity="0.14"/><rect x="841" y="1448" width="3" height="6" fill="#ff0000" opacity="0.80"/><rect x="841" y="1454" width="3" height="3" fill="#ff0000" opacity="0.28"/><rect x="853" y="1445" width="3" height="3" fill="#ff0000" opacity="0.14"/><rect x="853" y="1448" width="3" height="6" fill="#ff0000" opacity="0.80"/><rect x="853" y="1454" width="3" height="3" fill="#ff0000" opacity="0.28"/><rect x="856" y="1445" width="3" height="3" fill="#ff0000" opacity="0.14"/><rect x="856" y="1448" width="3" height="6" fill="#ff0000" opacity="0.80"/><rect x="856" y="1454" width="3" height="3" fill="#ff0000" opacity="0.28"/><rect x="901" y="1391" width="3" height="3" fill="#ff0000" opacity="0.13"/><rect x="901" y="1394" width="3" height="60" fill="#ff0000" opacity="0.70"/><rect x="901" y="1454" width="3" height="3" fill="#ff0000" opacity="0.24"/><rect x="904" y="1391" width="3" height="3" fill="#ff0000" opacity="0.18"/><rect x="904" y="1394" width="3" height="60" fill="#ff0000" opacity="1.00"/><rect x="904" y="1454" width="3" height="3" fill="#ff0000" opacity="0.35"/><rect x="907" y="1391" width="3" height="3" fill="#ff0000" opacity="0.04"/><rect x="907" y="1394" width="3" height="60" fill="#ff0000" opacity="0.20"/><rect x="907" y="1454" width="3" height="3" fill="#ff0000" opacity="0.07"/><rect x="916" y="1437" width="3" height="3" fill="#ff0000" opacity="0.14"/><rect x="916" y="1440" width="3" height="14" fill="#ff0000" opacity="0.75"/><rect x="916" y="1454" width="3" height="3" fill="#ff0000" opacity="0.26"/><rect x="919" y="1437" width="3" height="3" fill="#ff0000" opacity="0.18"/><rect x="919" y="1440" width="3" height="14" fill="#ff0000" opacity="1.00"/><rect x="919" y="1454" width="3" height="3" fill="#ff0000" opacity="0.35"/><rect x="922" y="1437" width="3" height="3" fill="#ff0000" opacity="0.04"/><rect x="922" y="1440" width="3" height="14" fill="#ff0000" opacity="0.20"/><rect x="922" y="1454" width="3" height="3" fill="#ff0000" opacity="0.07"/><rect x="928" y="1439" width="3" height="3" fill="#ff0000" opacity="0.04"/><rect x="928" y="1442" width="3" height="12" fill="#ff0000" opacity="0.25"/><rect x="928" y="1454" width="3" height="3" fill="#ff0000" opacity="0.09"/><rect x="931" y="1439" width="3" height="3" fill="#ff0000" opacity="0.18"/><rect x="931" y="1442" width="3" height="12" fill="#ff0000" opacity="1.00"/><rect x="931" y="1454" width="3" height="3" fill="#ff0000" opacity="0.35"/><rect x="934" y="1439" width="3" height="3" fill="#ff0000" opacity="0.11"/><rect x="934" y="1442" width="3" height="12" fill="#ff0000" opacity="0.60"/><rect x="934" y="1454" width="3" height="3" fill="#ff0000" opacity="0.21"/><rect x="943" y="1445" width="3" height="3" fill="#ff0000" opacity="0.05"/><rect x="943" y="1448" width="3" height="6" fill="#ff0000" opacity="0.30"/><rect x="943" y="1454" width="3" height="3" fill="#ff0000" opacity="0.10"/><rect x="946" y="1445" width="3" height="3" fill="#ff0000" opacity="0.16"/><rect x="946" y="1448" width="3" height="6" fill="#ff0000" opacity="0.90"/><rect x="946" y="1454" width="3" height="3" fill="#ff0000" opacity="0.32"/><rect x="949" y="1445" width="3" height="3" fill="#ff0000" opacity="0.07"/><rect x="949" y="1448" width="3" height="6" fill="#ff0000" opacity="0.40"/><rect x="949" y="1454" width="3" height="3" fill="#ff0000" opacity="0.14"/></g>
<g filter="url(#s5)"><rect x="1267" y="521" width="3" height="3" fill="#00b050" opacity="0.04"/><rect x="1267" y="524" width="3" height="930" fill="#00b050" opacity="0.20"/><rect x="1267" y="1454" width="3" height="3" fill="#00b050" opacity="0.07"/><rect x="1270" y="521" width="3" height="3" fill="#00b050" opacity="0.18"/><rect x="1270" y="524" width="3" height="930" fill="#00b050" opacity="1.00"/><rect x="1270" y="1454" width="3" height="3" fill="#00b050" opacity="0.35"/><rect x="1273" y="521" width="3" height="3" fill="#00b050" opacity="0.12"/><rect x="1273" y="524" width="3" height="930" fill="#00b050" opacity="0.65"/><rect x="1273" y="1454" width="3" height="3" fill="#00b050" opacity="0.23"/><rect x="1279" y="1445" width="3" height="3" fill="#00b050" opacity="0.05"/><rect x="1279" y="1448" width="3" height="6" fill="#00b050" opacity="0.30"/><rect x="1279" y="1454" width="3" height="3" fill="#00b050" opacity="0.10"/><rect x="1282" y="1445" width="3" height="3" fill="#00b050" opacity="0.09"/><rect x="1282" y="1448" width="3" height="6" fill="#00b050" opacity="0.50"/><rect x="1282" y="1454" width="3" height="3" fill="#00b050" opacity="0.17"/><rect x="1282" y="1260" width="3" height="3" fill="#00b050" opacity="0.04"/><rect x="1282" y="1263" width="3" height="191" fill="#00b050" opacity="0.20"/><rect x="1282" y="1454" width="3" height="3" fill="#00b050" opacity="0.07"/><rect x="1285" y="1260" width="3" height="3" fill="#00b050" opacity="0.18"/><rect x="1285" y="1263" width="3" height="191" fill="#00b050" opacity="1.00"/><rect x="1285" y="1454" width="3" height="3" fill="#00b050" opacity="0.35"/><rect x="1288" y="1260" width="3" height="3" fill="#00b050" opacity="0.12"/><rect x="1288" y="1263" width="3" height="191" fill="#00b050" opacity="0.65"/><rect x="1288" y="1454" width="3" height="3" fill="#00b050" opacity="0.23"/><rect x="1294" y="1391" width="3" height="3" fill="#00b050" opacity="0.08"/><rect x="1294" y="1394" width="3" height="60" fill="#00b050" opacity="0.45"/><rect x="1294" y="1454" width="3" height="3" fill="#00b050" opacity="0.16"/><rect x="1297" y="1391" width="3" height="3" fill="#00b050" opacity="0.18"/><rect x="1297" y="1394" width="3" height="60" fill="#00b050" opacity="1.00"/><rect x="1297" y="1454" width="3" height="3" fill="#00b050" opacity="0.35"/><rect x="1300" y="1391" width="3" height="3" fill="#00b050" opacity="0.07"/><rect x="1300" y="1394" width="3" height="60" fill="#00b050" opacity="0.40"/><rect x="1300" y="1454" width="3" height="3" fill="#00b050" opacity="0.14"/><rect x="1306" y="1439" width="3" height="3" fill="#00b050" opacity="0.02"/><rect x="1306" y="1442" width="3" height="12" fill="#00b050" opacity="0.10"/><rect x="1306" y="1454" width="3" height="3" fill="#00b050" opacity="0.03"/><rect x="1309" y="1439" width="3" height="3" fill="#00b050" opacity="0.18"/><rect x="1309" y="1442" width="3" height="12" fill="#00b050" opacity="1.00"/><rect x="1309" y="1454" width="3" height="3" fill="#00b050" opacity="0.35"/><rect x="1312" y="1439" width="3" height="3" fill="#00b050" opacity="0.16"/><rect x="1312" y="1442" width="3" height="12" fill="#00b050" opacity="0.90"/><rect x="1312" y="1454" width="3" height="3" fill="#00b050" opacity="0.32"/><rect x="1321" y="1446" width="3" height="3" fill="#00b050" opacity="0.14"/><rect x="1321" y="1449" width="3" height="5" fill="#00b050" opacity="0.80"/><rect x="1321" y="1454" width="3" height="3" fill="#00b050" opacity="0.28"/><rect x="1324" y="1446" width="3" height="3" fill="#00b050" opacity="0.16"/><rect x="1324" y="1449" width="3" height="5" fill="#00b050" opacity="0.90"/><rect x="1324" y="1454" width="3" height="3" fill="#00b050" opacity="0.32"/><rect x="1327" y="1446" width="3" height="3" fill="#00b050" opacity="0.02"/><rect x="1327" y="1449" width="3" height="5" fill="#00b050" opacity="0.10"/><rect x="1327" y="1454" width="3" height="3" fill="#00b050" opacity="0.03"/></g>
<g filter="url(#s6)"><rect x="1426" y="1430" width="3" height="3" fill="#ff0000" opacity="0.02"/><rect x="1426" y="1433" width="3" height="21" fill="#ff0000" opacity="0.12"/><rect x="1426" y="1454" width="3" height="3" fill="#ff0000" opacity="0.04"/><rect x="1429" y="1430" width="3" height="3" fill="#ff0000" opacity="0.18"/><rect x="1429" y="1433" width="3" height="21" fill="#ff0000" opacity="1.00"/><rect x="1429" y="1454" width="3" height="3" fill="#ff0000" opacity="0.35"/><rect x="1432" y="1430" width="3" height="3" fill="#ff0000" opacity="0.14"/><rect x="1432" y="1433" width="3" height="21" fill="#ff0000" opacity="0.80"/><rect x="1432" y="1454" width="3" height="3" fill="#ff0000" opacity="0.28"/><rect x="1438" y="1445" width="3" height="3" fill="#ff0000" opacity="0.05"/><rect x="1438" y="1448" width="3" height="6" fill="#ff0000" opacity="0.30"/><rect x="1438" y="1454" width="3" height="3" fill="#ff0000" opacity="0.10"/><rect x="1441" y="1445" width="3" height="3" fill="#ff0000" opacity="0.15"/><rect x="1441" y="1448" width="3" height="6" fill="#ff0000" opacity="0.85"/><rect x="1441" y="1454" width="3" height="3" fill="#ff0000" opacity="0.30"/><rect x="1444" y="1445" width="3" height="3" fill="#ff0000" opacity="0.05"/><rect x="1444" y="1448" width="3" height="6" fill="#ff0000" opacity="0.30"/><rect x="1444" y="1454" width="3" height="3" fill="#ff0000" opacity="0.10"/><rect x="1453" y="1445" width="3" height="3" fill="#3a86c8" opacity="0.04"/><rect x="1453" y="1448" width="3" height="6" fill="#3a86c8" opacity="0.25"/><rect x="1453" y="1454" width="3" height="3" fill="#3a86c8" opacity="0.09"/><rect x="1456" y="1445" width="3" height="3" fill="#3a86c8" opacity="0.13"/><rect x="1456" y="1448" width="3" height="6" fill="#3a86c8" opacity="0.70"/><rect x="1456" y="1454" width="3" height="3" fill="#3a86c8" opacity="0.24"/><rect x="1459" y="1445" width="3" height="3" fill="#3a86c8" opacity="0.05"/><rect x="1459" y="1448" width="3" height="6" fill="#3a86c8" opacity="0.30"/><rect x="1459" y="1454" width="3" height="3" fill="#3a86c8" opacity="0.10"/><rect x="1465" y="1348" width="3" height="3" fill="#00b0f0" opacity="0.11"/><rect x="1465" y="1351" width="3" height="103" fill="#00b0f0" opacity="0.60"/><rect x="1465" y="1454" width="3" height="3" fill="#00b0f0" opacity="0.21"/><rect x="1468" y="1348" width="3" height="3" fill="#00b0f0" opacity="0.18"/><rect x="1468" y="1351" width="3" height="103" fill="#00b0f0" opacity="1.00"/><rect x="1468" y="1454" width="3" height="3" fill="#00b0f0" opacity="0.35"/><rect x="1471" y="1348" width="3" height="3" fill="#00b0f0" opacity="0.04"/><rect x="1471" y="1351" width="3" height="103" fill="#00b0f0" opacity="0.20"/><rect x="1471" y="1454" width="3" height="3" fill="#00b0f0" opacity="0.07"/><rect x="1477" y="1445" width="3" height="3" fill="#00b0f0" opacity="0.11"/><rect x="1477" y="1448" width="3" height="6" fill="#00b0f0" opacity="0.60"/><rect x="1477" y="1454" width="3" height="3" fill="#00b0f0" opacity="0.21"/><rect x="1480" y="551" width="3" height="3" fill="#00b0f0" opacity="0.11"/><rect x="1480" y="554" width="3" height="900" fill="#00b0f0" opacity="0.60"/><rect x="1480" y="1454" width="3" height="3" fill="#00b0f0" opacity="0.21"/><rect x="1483" y="551" width="3" height="3" fill="#00b0f0" opacity="0.18"/><rect x="1483" y="554" width="3" height="900" fill="#00b0f0" opacity="1.00"/><rect x="1483" y="1454" width="3" height="3" fill="#00b0f0" opacity="0.35"/><rect x="1486" y="551" width="3" height="3" fill="#00b0f0" opacity="0.04"/><rect x="1486" y="554" width="3" height="900" fill="#00b0f0" opacity="0.22"/><rect x="1486" y="1454" width="3" height="3" fill="#00b0f0" opacity="0.08"/><rect x="1492" y="1257" width="3" height="3" fill="#00b0f0" opacity="0.16"/><rect x="1492" y="1260" width="3" height="194" fill="#00b0f0" opacity="0.90"/><rect x="1492" y="1454" width="3" height="3" fill="#00b0f0" opacity="0.32"/><rect x="1495" y="1257" width="3" height="3" fill="#00b0f0" opacity="0.18"/><rect x="1495" y="1260" width="3" height="194" fill="#00b0f0" opacity="1.00"/><rect x="1495" y="1454" width="3" height="3" fill="#00b0f0" opacity="0.35"/><rect x="1501" y="1391" width="3" height="3" fill="#00b0f0" opacity="0.02"/><rect x="1501" y="1394" width="3" height="60" fill="#00b0f0" opacity="0.12"/><rect x="1501" y="1454" width="3" height="3" fill="#00b0f0" opacity="0.04"/><rect x="1504" y="1391" width="3" height="3" fill="#00b0f0" opacity="0.18"/><rect x="1504" y="1394" width="3" height="60" fill="#00b0f0" opacity="1.00"/><rect x="1504" y="1454" width="3" height="3" fill="#00b0f0" opacity="0.35"/><rect x="1507" y="1391" width="3" height="3" fill="#00b0f0" opacity="0.14"/><rect x="1507" y="1394" width="3" height="60" fill="#00b0f0" opacity="0.75"/><rect x="1507" y="1454" width="3" height="3" fill="#00b0f0" opacity="0.26"/><rect x="1510" y="1445" width="3" height="3" fill="#00b0f0" opacity="0.14"/><rect x="1510" y="1448" width="3" height="6" fill="#00b0f0" opacity="0.80"/><rect x="1510" y="1454" width="3" height="3" fill="#00b0f0" opacity="0.28"/><rect x="1516" y="1440" width="3" height="3" fill="#00b0f0" opacity="0.02"/><rect x="1516" y="1443" width="3" height="11" fill="#00b0f0" opacity="0.10"/><rect x="1516" y="1454" width="3" height="3" fill="#00b0f0" opacity="0.03"/><rect x="1519" y="1440" width="3" height="3" fill="#00b0f0" opacity="0.18"/><rect x="1519" y="1443" width="3" height="11" fill="#00b0f0" opacity="1.00"/><rect x="1519" y="1454" width="3" height="3" fill="#00b0f0" opacity="0.35"/><rect x="1522" y="1440" width="3" height="3" fill="#00b0f0" opacity="0.14"/><rect x="1522" y="1443" width="3" height="11" fill="#00b0f0" opacity="0.80"/><rect x="1522" y="1454" width="3" height="3" fill="#00b0f0" opacity="0.28"/><rect x="1528" y="1445" width="3" height="3" fill="#00b0f0" opacity="0.05"/><rect x="1528" y="1448" width="3" height="6" fill="#00b0f0" opacity="0.30"/><rect x="1528" y="1454" width="3" height="3" fill="#00b0f0" opacity="0.10"/><rect x="1531" y="1445" width="3" height="3" fill="#00b0f0" opacity="0.14"/><rect x="1531" y="1448" width="3" height="6" fill="#00b0f0" opacity="0.80"/><rect x="1531" y="1454" width="3" height="3" fill="#00b0f0" opacity="0.28"/><rect x="1534" y="1445" width="3" height="3" fill="#00b0f0" opacity="0.05"/><rect x="1534" y="1448" width="3" height="6" fill="#00b0f0" opacity="0.30"/><rect x="1534" y="1454" width="3" height="3" fill="#00b0f0" opacity="0.10"/></g>
<g filter="url(#s7)"><rect x="1843" y="1263" width="3" height="3" fill="#ff0000" opacity="0.01"/><rect x="1843" y="1266" width="3" height="188" fill="#ff0000" opacity="0.08"/><rect x="1843" y="1454" width="3" height="3" fill="#ff0000" opacity="0.03"/><rect x="1846" y="1263" width="3" height="3" fill="#ff0000" opacity="0.18"/><rect x="1846" y="1266" width="3" height="188" fill="#ff0000" opacity="1.00"/><rect x="1846" y="1454" width="3" height="3" fill="#ff0000" opacity="0.35"/><rect x="1849" y="1263" width="3" height="3" fill="#ff0000" opacity="0.18"/><rect x="1849" y="1266" width="3" height="188" fill="#ff0000" opacity="1.00"/><rect x="1849" y="1454" width="3" height="3" fill="#ff0000" opacity="0.35"/><rect x="1858" y="1403" width="3" height="3" fill="#ff0000" opacity="0.07"/><rect x="1858" y="1406" width="3" height="48" fill="#ff0000" opacity="0.40"/><rect x="1858" y="1454" width="3" height="3" fill="#ff0000" opacity="0.14"/><rect x="1861" y="1403" width="3" height="3" fill="#ff0000" opacity="0.18"/><rect x="1861" y="1406" width="3" height="48" fill="#ff0000" opacity="1.00"/><rect x="1861" y="1454" width="3" height="3" fill="#ff0000" opacity="0.35"/><rect x="1864" y="1403" width="3" height="3" fill="#ff0000" opacity="0.07"/><rect x="1864" y="1406" width="3" height="48" fill="#ff0000" opacity="0.40"/><rect x="1864" y="1454" width="3" height="3" fill="#ff0000" opacity="0.14"/><rect x="1870" y="1436" width="3" height="3" fill="#ff0000" opacity="0.13"/><rect x="1870" y="1439" width="3" height="15" fill="#ff0000" opacity="0.70"/><rect x="1870" y="1454" width="3" height="3" fill="#ff0000" opacity="0.24"/><rect x="1873" y="1436" width="3" height="3" fill="#ff0000" opacity="0.18"/><rect x="1873" y="1439" width="3" height="15" fill="#ff0000" opacity="1.00"/><rect x="1873" y="1454" width="3" height="3" fill="#ff0000" opacity="0.35"/><rect x="1876" y="1436" width="3" height="3" fill="#ff0000" opacity="0.03"/><rect x="1876" y="1439" width="3" height="15" fill="#ff0000" opacity="0.15"/><rect x="1876" y="1454" width="3" height="3" fill="#ff0000" opacity="0.05"/><rect x="1885" y="1445" width="3" height="3" fill="#ff0000" opacity="0.09"/><rect x="1885" y="1448" width="3" height="6" fill="#ff0000" opacity="0.50"/><rect x="1885" y="1454" width="3" height="3" fill="#ff0000" opacity="0.17"/><rect x="1888" y="1445" width="3" height="3" fill="#ff0000" opacity="0.16"/><rect x="1888" y="1448" width="3" height="6" fill="#ff0000" opacity="0.90"/><rect x="1888" y="1454" width="3" height="3" fill="#ff0000" opacity="0.32"/><rect x="1891" y="1445" width="3" height="3" fill="#ff0000" opacity="0.02"/><rect x="1891" y="1448" width="3" height="6" fill="#ff0000" opacity="0.10"/><rect x="1891" y="1454" width="3" height="3" fill="#ff0000" opacity="0.03"/></g>
<g filter="url(#s8)"><rect x="2002" y="1403" width="3" height="3" fill="#ff0000" opacity="0.18"/><rect x="2002" y="1406" width="3" height="48" fill="#ff0000" opacity="1.00"/><rect x="2002" y="1454" width="3" height="3" fill="#ff0000" opacity="0.35"/><rect x="2005" y="1403" width="3" height="3" fill="#ff0000" opacity="0.18"/><rect x="2005" y="1406" width="3" height="48" fill="#ff0000" opacity="1.00"/><rect x="2005" y="1454" width="3" height="3" fill="#ff0000" opacity="0.35"/><rect x="2014" y="1436" width="3" height="3" fill="#ff0000" opacity="0.11"/><rect x="2014" y="1439" width="3" height="15" fill="#ff0000" opacity="0.60"/><rect x="2014" y="1454" width="3" height="3" fill="#ff0000" opacity="0.21"/><rect x="2017" y="1436" width="3" height="3" fill="#ff0000" opacity="0.18"/><rect x="2017" y="1439" width="3" height="15" fill="#ff0000" opacity="1.00"/><rect x="2017" y="1454" width="3" height="3" fill="#ff0000" opacity="0.35"/><rect x="2020" y="1436" width="3" height="3" fill="#ff0000" opacity="0.05"/><rect x="2020" y="1439" width="3" height="15" fill="#ff0000" opacity="0.30"/><rect x="2020" y="1454" width="3" height="3" fill="#ff0000" opacity="0.10"/><rect x="2029" y="1445" width="3" height="3" fill="#ff0000" opacity="0.09"/><rect x="2029" y="1448" width="3" height="6" fill="#ff0000" opacity="0.50"/><rect x="2029" y="1454" width="3" height="3" fill="#ff0000" opacity="0.17"/><rect x="2032" y="1445" width="3" height="3" fill="#ff0000" opacity="0.16"/><rect x="2032" y="1448" width="3" height="6" fill="#ff0000" opacity="0.90"/><rect x="2032" y="1454" width="3" height="3" fill="#ff0000" opacity="0.32"/><rect x="2035" y="1445" width="3" height="3" fill="#ff0000" opacity="0.05"/><rect x="2035" y="1448" width="3" height="6" fill="#ff0000" opacity="0.30"/><rect x="2035" y="1454" width="3" height="3" fill="#ff0000" opacity="0.10"/><rect x="2041" y="1445" width="3" height="3" fill="#ff0000" opacity="0.15"/><rect x="2041" y="1448" width="3" height="6" fill="#ff0000" opacity="0.85"/><rect x="2041" y="1454" width="3" height="3" fill="#ff0000" opacity="0.30"/><rect x="2044" y="1445" width="3" height="3" fill="#ff0000" opacity="0.16"/><rect x="2044" y="1448" width="3" height="6" fill="#ff0000" opacity="0.90"/><rect x="2044" y="1454" width="3" height="3" fill="#ff0000" opacity="0.32"/></g>
<g filter="url(#p9)"><path d="M287.4 626.4 Q288 606.5 290.6 603.3 L631.8 603.3 Q634.9 601.5 635.3 580.2 Q635.7 601.5 638.8 603.3 L980.4 603.3 Q983 606.5 983.5 626.4" fill="none" stroke="#ff0000" stroke-width="5.5" stroke-linejoin="round"/></g>
<g filter="url(#p10)"><text transform="translate(18.95,115.95) scale(0.95,1)" font-size="64.5" fill="#000000" stroke="#000000" stroke-width="0.5">100</text></g>
<g filter="url(#p11)"><text transform="translate(50.60,794.50) scale(0.95,1)" font-size="64.5" fill="#000000" stroke="#000000" stroke-width="0.5">50</text></g>
<g filter="url(#p12)"><text transform="translate(82.75,1473.20) scale(0.95,1)" font-size="64.5" fill="#000000" stroke="#000000" stroke-width="0.5">0</text></g>
<g filter="url(#p13)"><text transform="translate(286.00,1533.30) scale(0.95,1)" font-size="64.5" fill="#000000" stroke="#000000" stroke-width="0.5">220</text></g>
<g filter="url(#p14)"><text transform="translate(809.50,1533.30) scale(0.95,1)" font-size="64.5" fill="#000000" stroke="#000000" stroke-width="0.5">260</text></g>
<g filter="url(#p15)"><text transform="translate(1332.30,1533.30) scale(0.95,1)" font-size="64.5" fill="#000000" stroke="#000000" stroke-width="0.5">300</text></g>
<g filter="url(#p16)"><text transform="translate(1853.55,1533.30) scale(0.95,1)" font-size="64.5" fill="#000000" stroke="#000000" stroke-width="0.5">340</text></g>
<g filter="url(#p17)"><text transform="translate(1064.00,1545.60) scale(1.0,1)" font-size="63" fill="#000000" stroke="#000000" stroke-width="0.5">m/z</text></g>
<g filter="url(#p18)"><text transform="translate(62.45,547.25) rotate(-90) scale(0.99,1)" font-size="62" fill="#000000" stroke="#000000" stroke-width="0.5">% bp</text></g>
<g filter="url(#p19)"><text transform="translate(137.50,549.05) rotate(-90) scale(0.985,1)" font-size="62" fill="#000000" stroke="#000000" stroke-width="0.5">intensity</text></g>
<g filter="url(#p20)"><text transform="translate(344.30,97.30) scale(0.915,1)" font-size="67.0" fill="#0000ff" stroke="#0000ff" stroke-width="0.5">219.0834</text></g>
<g filter="url(#p21)"><text transform="translate(363.15,1404.65) scale(0.915,1)" font-size="67.0" fill="#0000ff" stroke="#0000ff" stroke-width="0.5">231.1185</text></g>
<g filter="url(#p22)"><text transform="translate(791.55,1372.20) scale(0.915,1)" font-size="67.0" fill="#0000ff" stroke="#0000ff" stroke-width="0.5">265.1437</text></g>
<g filter="url(#p23)"><text transform="translate(1125.10,508.55) scale(0.915,1)" font-size="67.0" fill="#0000ff" stroke="#0000ff" stroke-width="0.5">293.1022</text></g>
<g filter="url(#p24)"><text transform="translate(1475.50,536.70) scale(0.915,1)" font-size="67.0" fill="#0000ff" stroke="#0000ff" stroke-width="0.5">309.1336</text></g>
<g filter="url(#p25)"><text transform="translate(1677.40,1247.15) scale(0.915,1)" font-size="67.0" fill="#0000ff" stroke="#0000ff" stroke-width="0.5">337.1648</text></g>
<g filter="url(#p26)"><text transform="translate(1911.85,1370.95) scale(0.915,1)" font-size="67.0" fill="#0000ff" stroke="#0000ff" stroke-width="0.5">349.1648</text></g>
<g filter="url(#p27)"><text transform="translate(350.75,542.40) scale(1.052,1)" font-size="55.5" fill="#000000" stroke="#000000" stroke-width="0.35">Other fragmentations</text></g>
<g filter="url(#p28)"><text transform="translate(1516.80,1367.30) scale(1.068,1)" font-size="53.5" fill="#000000" stroke="#000000" stroke-width="0.35">Isotope</text></g>
<g filter="url(#p29)"><text font-size="55" fill="#000000" stroke="#000000" stroke-width="0.2"><tspan x="1128.4" y="428.9">[</tspan><tspan x="1149.4" y="430.4">M</tspan><tspan x="1196.0" y="430.4"> </tspan><tspan x="1213.5" y="427.9">–</tspan><tspan x="1246.0" y="430.4"> </tspan><tspan x="1255.2" y="430.4">C</tspan><tspan x="1292.0" y="430.4">H</tspan><tspan x="1330.7" y="443.4" font-size="41">3</tspan><tspan x="1354.2" y="428.9">]</tspan><tspan x="1370.6" y="411.4" font-size="41">+</tspan></text></g>
<g filter="url(#p30)"><text font-size="55.5" fill="#000000" stroke="#000000" stroke-width="0.2"><tspan x="1516.9" y="609.1">[</tspan><tspan x="1537.8" y="610.6">M</tspan><tspan x="1583.0" y="610.6"> </tspan><tspan x="1600.8" y="611.1">+</tspan><tspan x="1633.0" y="610.6"> </tspan><tspan x="1646.1" y="610.6">H</tspan><tspan x="1687.1" y="609.1">]</tspan><tspan x="1703.6" y="590.6" font-size="41">+</tspan></text></g>
<g filter="url(#p31)"><text transform="translate(1688.60,1165.50) scale(0.952,1)" font-size="64.5" fill="#000000" stroke="#000000" stroke-width="0.45"><tspan dy="0.0">[M+C</tspan><tspan font-size="43" dy="11.5">2</tspan><tspan dy="-11.5">H</tspan><tspan font-size="43" dy="11.5">5</tspan><tspan dy="-11.5">]</tspan><tspan font-size="43" dy="-19.0">+</tspan></text></g>
<g filter="url(#p32)"><text transform="translate(1907.40,1292.50) scale(0.952,1)" font-size="64.5" fill="#000000" stroke="#000000" stroke-width="0.45"><tspan dy="0.0">[M+C</tspan><tspan font-size="43" dy="11.5">3</tspan><tspan dy="-11.5">H</tspan><tspan font-size="43" dy="11.5">5</tspan><tspan dy="-11.5">]</tspan><tspan font-size="43" dy="-19.0">+</tspan></text></g>
</svg>
</body>
</html>
